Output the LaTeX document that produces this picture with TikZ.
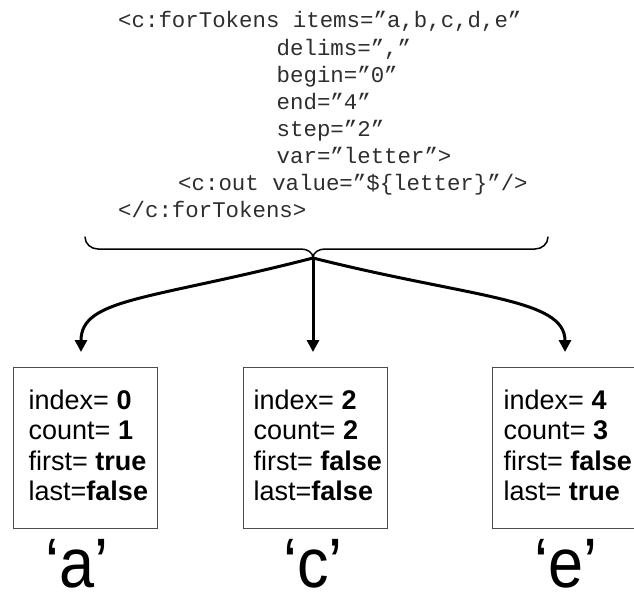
\documentclass[tikz,border=0pt]{standalone}
\usepackage{fontspec}
\setmainfont{Liberation Sans}
\newfontfamily\codefont{Liberation Mono}
\newfontfamily\tokfont[FakeStretch=0.9]{Liberation Sans}
\usetikzlibrary{arrows.meta}
\begin{document}
\begin{tikzpicture}[x=1pt,y=-1pt,
  code/.style={anchor=base west, inner sep=0pt, text=black!82, font=\codefont\fontsize{22.4}{27}\selectfont},
  field/.style={anchor=base west, inner sep=0pt, font=\fontsize{27}{30}\selectfont},
  valbox/.style={draw=black!70, line width=1.3pt, minimum width=144pt, minimum height=161pt, inner sep=0pt, anchor=north west},
  tok/.style={anchor=base, inner sep=0pt, text depth=0pt, font=\tokfont\fontsize{70}{72}\selectfont},
  flow/.style={line width=3pt, -{Triangle[length=12pt,width=12pt]}},
  bracestyle/.style={line width=1.5pt, line cap=round}
]
\useasboundingbox (0,0) rectangle (634,594);

% code
\node[code] (l1) at (118,28)    {<c:forTokens items=”a,b,c,d,e”};
\node[code] (l2) at (276.5,55.1)  {delims=”,”};
\node[code] (l3) at (276.5,82.2)  {begin=”0”};
\node[code] (l4) at (276.5,109.3) {end=”4”};
\node[code] (l5) at (276.5,136.4) {step=”2”};
\node[code] (l6) at (276.5,163.5) {var=”letter”>};
\node[code] (l7) at (178,190.6)   {<c:out value=”\$\{letter\}”/>};
\node[code] (l8) at (118,217.7)   {</c:forTokens>};

% brace
\coordinate (t) at (313,258);
\draw[bracestyle] (85,237) to[out=-90,in=180] (98,249) -- (301,249) to[out=0,in=90] (t);
\draw[bracestyle] (548,237) to[out=-90,in=0] (535,249) -- (325,249) to[out=180,in=90] (t);

% boxes
\node[valbox] (b1) at (13,367) {};
\node[valbox] (b2) at (243,367) {};
\node[valbox] (b3) at (492,367) {};

% arrow ends
\coordinate (e1) at (81,352);
\coordinate (e2) at (313,352);
\coordinate (e3) at (565,352);
\draw[flow] (t) .. controls (150,300) and (81,298) .. (e1);
\draw[flow] (t) -- (e2);
\draw[flow] (t) .. controls (472,298) and (565,298) .. (e3);

% box texts
\node[field] (a1) at (28.5,409) {index= \textbf{0}};
\node[field] (a2) at (28.5,439.5) {count= \textbf{1}};
\node[field] (a3) at (28.5,470) {first= \textbf{true}};
\node[field] (a4) at (28.5,500.5) {last=\textbf{false}};

\node[field] (c1) at (253.5,409) {index= \textbf{2}};
\node[field] (c2) at (253.5,439.5) {count= \textbf{2}};
\node[field] (c3) at (253.5,470) {first= \textbf{false}};
\node[field] (c4) at (253.5,500.5) {last=\textbf{false}};

\node[field] (d1) at (503.5,409) {index= \textbf{4}};
\node[field] (d2) at (503.5,439.5) {count= \textbf{3}};
\node[field] (d3) at (503.5,470) {first= \textbf{false}};
\node[field] (d4) at (503.5,500.5) {last= \textbf{true}};

% tokens
\node[tok] (ta) at (77,587)  {‘a’};
\node[tok] (tc) at (313,587) {‘c’};
\node[tok] (te) at (566,587) {‘e’};
\end{tikzpicture}
\end{document}
